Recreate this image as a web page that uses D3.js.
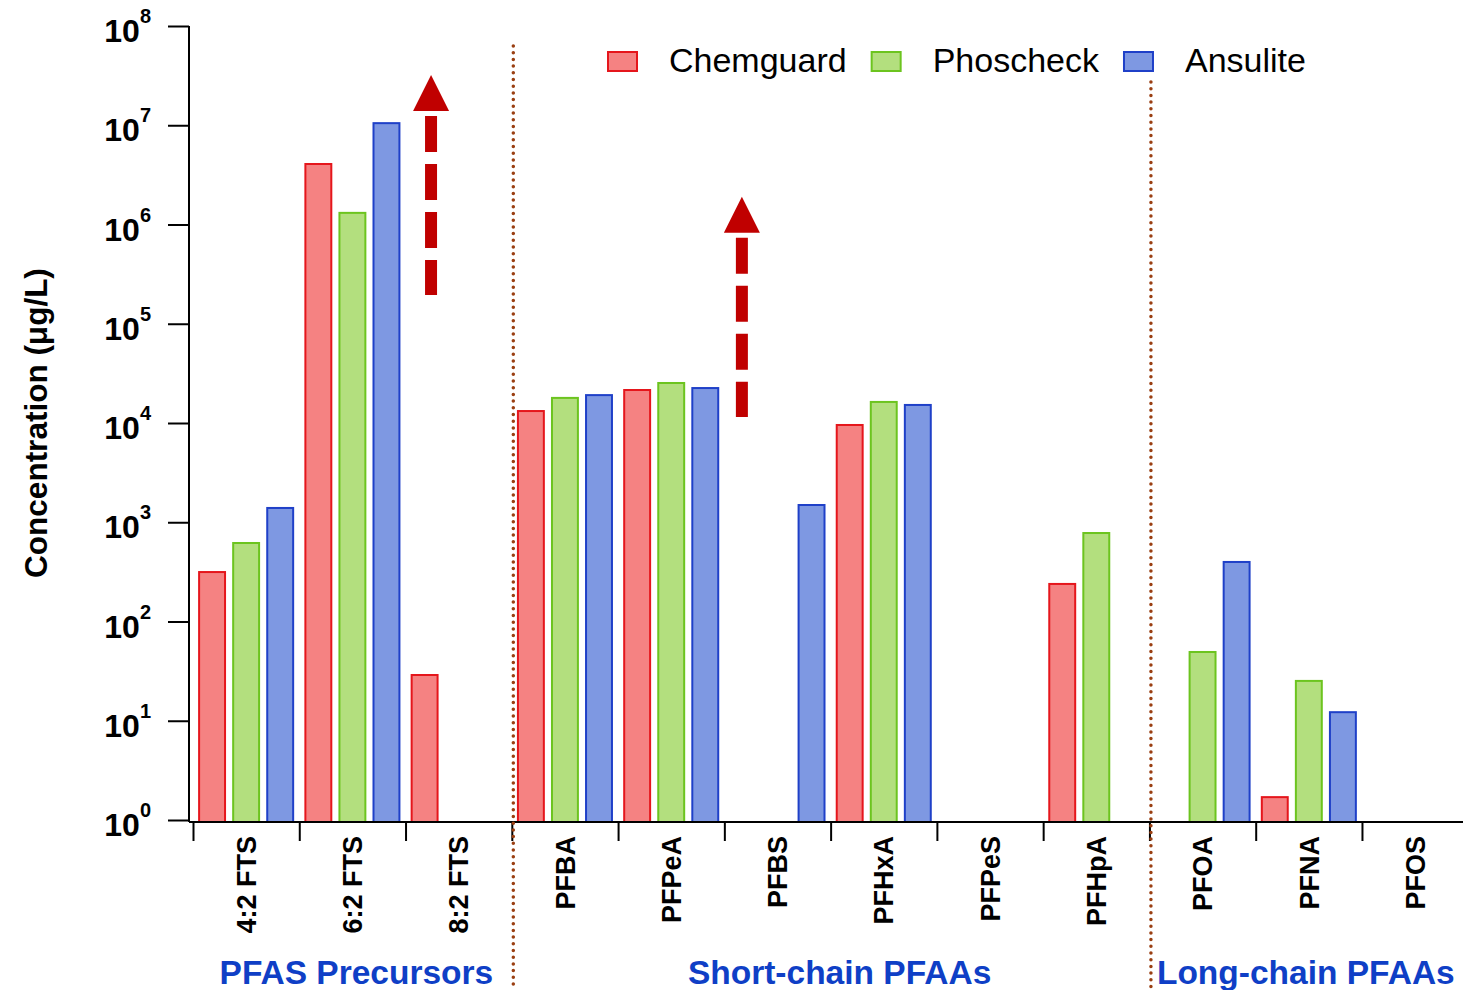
<!DOCTYPE html>
<html>
<head>
<meta charset="utf-8">
<title>PFAS concentrations in AFFF</title>
<script src="https://d3js.org/d3.v7.min.js"></script>
<style>
  body { margin: 0; padding: 0; background: #fff; }
  svg { display: block; font-family: Arial, "Liberation Sans", sans-serif; }
  .axis path, .axis line { stroke: #000; stroke-width: 2; }
</style>
</head>
<body>
<script>
// categories along the x axis
var categories = ["4:2 FTS", "6:2 FTS", "8:2 FTS", "PFBA", "PFPeA", "PFBS", "PFHxA", "PFPeS", "PFHpA", "PFOA", "PFNA", "PFOS"];
// compound groups (name, number of categories in it)
var groupNames = ["PFAS Precursors", "Short-chain PFAAs", "Long-chain PFAAs"];
var groupSizes = [3, 6, 3];
// series (ug/L), null = not detected
var seriesNames = ["Chemguard", "Phoscheck", "Ansulite"];
var chemguard = [315, 4.07e6, 28.9, 1.32e4, 2.15e4, null, 9550, null, 239, null, 1.7, null];
var phoscheck = [618, 1.31e6, null, 1.79e4, 2.53e4, null, 1.63e4, null, 779, 49.3, 25.2, null];
var ansulite = [1393, 1.05e7, null, 1.91e4, 2.25e4, 1492, 1.52e4, null, null, 398, 12.2, null];
// y tick exponents
var yExponents = [0, 1, 2, 3, 4, 5, 6, 7, 8];
// "greater than" arrows: category, position inside band, from / to values
var arrowCats = ["8:2 FTS", "PFBS"];
var arrowAt = [0.24, 0.165];
var arrowFrom = [1.95e5, 1.15e4];
var arrowTo = [3.2e7, 1.9e6];

var fills = ["#f58282", "#b3df7e", "#7e98e2"];
var strokes = ["#e5161c", "#6cc41f", "#1f40c8"];

var w = 1463, h = 990;
var axisY = 822;

var svg = d3.select("body").append("svg")
    .attr("width", w)
    .attr("height", h);

var x = d3.scaleBand()
    .domain(categories)
    .range([193, 193 + 12 * 106.27])
    .padding(0);

var x1 = d3.scaleBand()
    .domain(seriesNames)
    .range([0, x.bandwidth()])
    .paddingInner(0.18)
    .paddingOuter(0.15);

var y = d3.scaleLog()
    .domain([1, 1e8])
    .range([820, 26]);

// bars
var allSeries = [chemguard, phoscheck, ansulite];
var barData = [];
allSeries.forEach(function(s, si) {
    s.forEach(function(v, ci) {
        if (v != null) barData.push({cat: categories[ci], series: seriesNames[si], si: si, value: v});
    });
});

svg.append("g").selectAll("rect")
    .data(barData)
    .enter().append("rect")
    .attr("x", function(d) { return x(d.cat) + x1(d.series) + 1; })
    .attr("y", function(d) { return y(d.value); })
    .attr("width", x1.bandwidth() - 2)
    .attr("height", function(d) { return axisY - y(d.value); })
    .attr("fill", function(d) { return fills[d.si]; })
    .attr("stroke", function(d) { return strokes[d.si]; })
    .attr("stroke-width", 2);

// y axis
var yAxis = d3.axisLeft(y)
    .tickValues(yExponents.map(function(e) { return Math.pow(10, e); }))
    .tickSize(21)
    .tickSizeOuter(0)
    .tickFormat("");

var gy = svg.append("g")
    .attr("class", "axis")
    .attr("transform", "translate(189,0)")
    .call(yAxis);
gy.select(".domain").attr("d", "M0," + y(1e8) + "V" + axisY);

var ylab = svg.append("g").selectAll("text")
    .data(yExponents)
    .enter().append("text")
    .attr("x", 151)
    .attr("y", function(e) { return y(Math.pow(10, e)) + 16; })
    .attr("text-anchor", "end")
    .attr("font-weight", "bold");
ylab.append("tspan").attr("font-size", 32).text("10");
ylab.append("tspan").attr("font-size", 20).attr("dy", -19).text(function(e) { return e; });

svg.append("text")
    .attr("transform", "translate(47,423) rotate(-90)")
    .attr("text-anchor", "middle")
    .attr("font-size", 31.5)
    .attr("font-weight", "bold")
    .text("Concentration (\u03bcg/L)");

// x axis: ticks on category boundaries
var xb = d3.scaleLinear()
    .domain([0, categories.length])
    .range(x.range());

var gx = svg.append("g")
    .attr("class", "axis")
    .attr("transform", "translate(0," + axisY + ")")
    .call(d3.axisBottom(xb).tickValues(d3.range(0, categories.length + 1)).tickSize(19).tickSizeOuter(0).tickFormat(""));
gx.select(".domain").attr("d", "M189,0H" + w);

svg.append("g").selectAll("text")
    .data(categories)
    .enter().append("text")
    .attr("transform", function(d) { return "translate(" + (x(d) + x.bandwidth() / 2) + ",836) rotate(-90)"; })
    .attr("text-anchor", "end")
    .attr("dy", "0.36em")
    .attr("font-size", 27)
    .attr("font-weight", "bold")
    .text(function(d) { return d; });

// group separators and labels
var labelShift = [4, 9, -3];
var start = 0;
groupNames.forEach(function(g, i) {
    var x0 = xb(start), x1g = xb(start + groupSizes[i]);
    svg.append("text")
        .attr("x", (x0 + x1g) / 2 + labelShift[i])
        .attr("y", 984)
        .attr("text-anchor", "middle")
        .attr("font-size", 33.5)
        .attr("font-weight", "bold")
        .attr("fill", "#0f3fc6")
        .text(g);
    if (i > 0) {
        svg.append("line")
            .attr("x1", x0 + 1.5).attr("x2", x0 + 1.5)
            .attr("y1", i == 1 ? 46 : 82)
            .attr("y2", h)
            .attr("stroke", "#9a3f12")
            .attr("stroke-width", 3.5)
            .attr("stroke-linecap", "round")
            .attr("stroke-dasharray", "0,6.7");
    }
    start += groupSizes[i];
});

// arrows
arrowCats.forEach(function(c, i) {
    var ax = x(c) + arrowAt[i] * x.bandwidth();
    var top = y(arrowTo[i]);
    svg.append("path")
        .attr("d", "M" + (ax - 18) + "," + (top + 36) + "L" + ax + "," + top + "L" + (ax + 18) + "," + (top + 36) + "Z")
        .attr("fill", "#c00000");
    svg.append("line")
        .attr("x1", ax).attr("x2", ax)
        .attr("y1", top + 41)
        .attr("y2", y(arrowFrom[i]))
        .attr("stroke", "#c00000")
        .attr("stroke-width", 12)
        .attr("stroke-dasharray", "36,12");
});

// legend
var legend = svg.append("g");
var lx = 607;
seriesNames.forEach(function(s, i) {
    legend.append("rect")
        .attr("x", lx + 1).attr("y", 52)
        .attr("width", 29).attr("height", 19)
        .attr("fill", fills[i])
        .attr("stroke", strokes[i])
        .attr("stroke-width", 2);
    var t = legend.append("text")
        .attr("x", lx + 62)
        .attr("y", 72)
        .attr("font-size", 34)
        .text(s);
    lx = lx + 62 + t.node().getComputedTextLength() + 24;
});
</script>
</body>
</html>
